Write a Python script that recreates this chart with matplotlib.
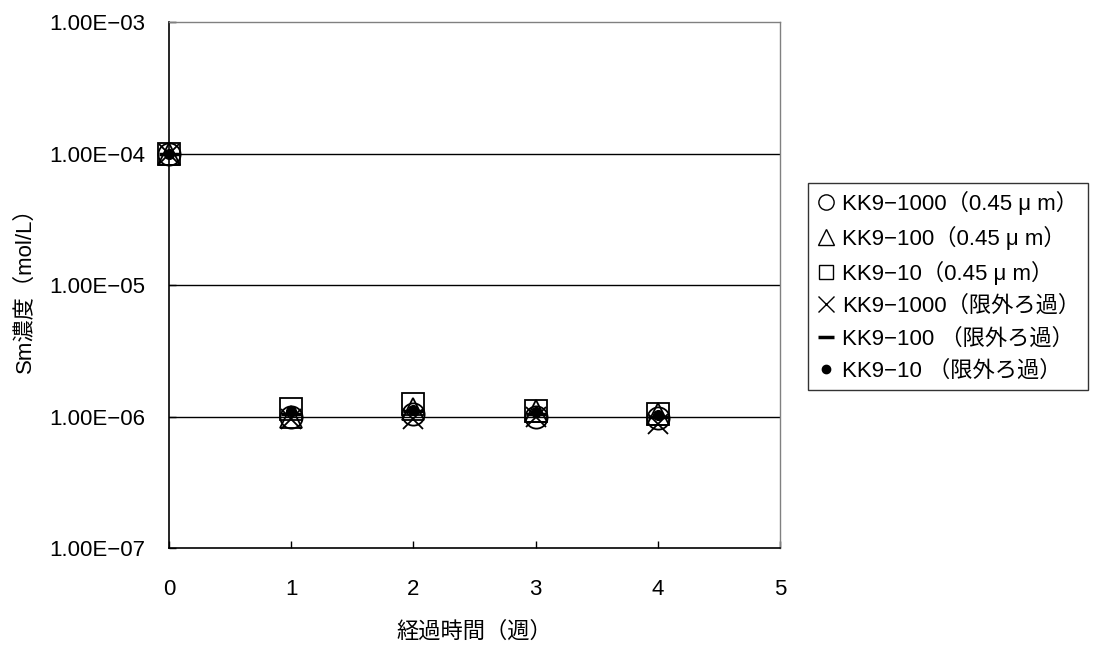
import numpy as np
import matplotlib.pyplot as plt

plt.rcParams['font.family'] = ['Liberation Sans', 'Noto Sans CJK JP', 'DejaVu Sans']

weeks = [0, 1, 2, 3, 4]

# Sm concentration (mol/L) per sample
kk1000_045 = [1.00e-4, 1.00e-6, 1.05e-6, 1.00e-6, 0.98e-6]
kk100_045 = [1.00e-4, 1.00e-6, 1.15e-6, 1.10e-6, 1.05e-6]
kk10_045 = [1.00e-4, 1.15e-6, 1.25e-6, 1.10e-6, 1.05e-6]
kk1000_uf = [1.00e-4, 0.95e-6, 0.95e-6, 1.00e-6, 0.88e-6]
kk100_uf = [1.00e-4, 1.05e-6, 1.10e-6, 1.05e-6, 1.00e-6]
kk10_uf = [1.00e-4, 1.10e-6, 1.12e-6, 1.08e-6, 1.02e-6]

ytick_vals = [1e-7, 1e-6, 1e-5, 1e-4, 1e-3]
ytick_labels = ['1.00E−07', '1.00E−06', '1.00E−05', '1.00E−04', '1.00E−03']

labels = [
    'KK9−1000（0.45 μ m）',
    'KK9−100（0.45 μ m）',
    'KK9−10（0.45 μ m）',
    'KK9−1000（限外ろ過）',
    'KK9−100 （限外ろ過）',
    'KK9−10 （限外ろ過）',
]

fig = plt.figure(figsize=(10.96, 6.48), dpi=100)
ax = fig.add_axes([0.1542, 0.1543, 0.5575, 0.8117])

ax.set_yscale('log')
ax.set_xlim(0, 5)
ax.set_ylim(1e-7, 1e-3)

for y in [1e-6, 1e-5, 1e-4]:
    ax.axhline(y, color='black', lw=1.0, zorder=1)

kw = dict(ls='none', color='black', zorder=3, clip_on=False)
series = [
    (kk1000_045, dict(marker='o', ms=16, mfc='none', mew=1.3)),
    (kk100_045, dict(marker='^', ms=16, mfc='none', mew=1.3)),
    (kk10_045, dict(marker='s', ms=16, mfc='none', mew=1.3)),
    (kk1000_uf, dict(marker='x', ms=15, mew=1.3)),
    (kk100_uf, dict(marker='_', ms=15, mew=2.5)),
    (kk10_uf, dict(marker='o', ms=7)),
]
for vals, style in series:
    ax.plot(weeks, vals, **style, **kw)

# small versions of the same symbols for the legend
leg_styles = [
    dict(marker='o', ms=11, mfc='none', mew=1.0),
    dict(marker='^', ms=12, mfc='none', mew=1.0),
    dict(marker='s', ms=10, mfc='none', mew=1.0),
    dict(marker='x', ms=11, mew=1.0),
    dict(marker='_', ms=12, mew=2.5),
    dict(marker='o', ms=6),
]
handles = [plt.Line2D([], [], ls='none', color='black', **st) for st in leg_styles]

ax.set_xticks(range(6))
ax.set_yticks(ytick_vals)
ax.set_yticklabels(ytick_labels)
ax.minorticks_off()
ax.tick_params(axis='both', labelsize=16, direction='in', length=5, width=1, color='black')
ax.tick_params(axis='y', pad=17)
ax.tick_params(axis='x', pad=22)

for side in ['top', 'right']:
    ax.spines[side].set_color('#808080')
    ax.spines[side].set_linewidth(1.0)
for side in ['left', 'bottom']:
    ax.spines[side].set_color('black')
    ax.spines[side].set_linewidth(1.2)

ax.set_xlabel('経過時間（週）', fontsize=16, labelpad=16)
ax.set_ylabel('Sm濃度（mol/L）', fontsize=16, labelpad=10)

leg = fig.legend(handles, labels, loc='upper left', bbox_to_anchor=(0.737, 0.718),
                 handlelength=0.9, handletextpad=0.3, fontsize=16, frameon=True,
                 fancybox=False, edgecolor='black', borderpad=0.35, labelspacing=0.5,
                 borderaxespad=0)
leg.get_frame().set_linewidth(1.0)

fig.savefig('out.png', dpi=100)
